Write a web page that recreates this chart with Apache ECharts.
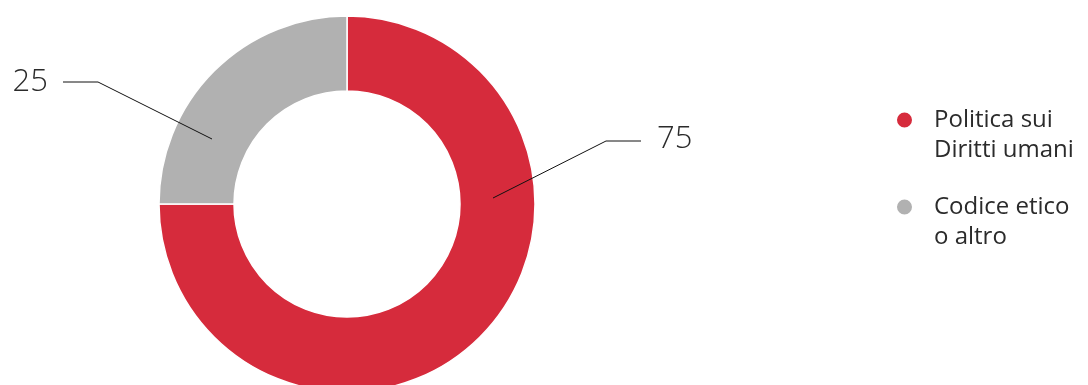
<!DOCTYPE html>
<html>
<head>
<meta charset="utf-8">
<script src="https://cdn.jsdelivr.net/npm/echarts@6/dist/echarts.min.js"></script>
<style>
  html, body { margin: 0; padding: 0; background: #ffffff; }
  #chart { width: 1088px; height: 385px; }
</style>
</head>
<body>
<div id="chart"></div>
<script>
// Categories and values of the donut
const categories = ['Politica sui\nDiritti umani', 'Codice etico\no altro'];
const values = [75, 25];
const colors = ['#D62B3C', '#B1B1B1'];

// Label placement (pixel positions of value text and its leader line)
const labelPlacement = [
  { x: 657, y: 139, align: 'left', line: [[493, 198], [606, 141], [641, 141]] },
  { x: 48, y: 82, align: 'right', line: [[212, 139], [98, 82], [63, 82]] }
];

const FONT = '"Open Sans", "DejaVu Sans", sans-serif';
const center = [347, 204];
const radius = [113, 188];
const pieData = categories.map((name, i) => ({ name: name, value: values[i] }));

const chart = echarts.init(document.getElementById('chart'), null, { renderer: 'canvas' });

chart.setOption({
  animation: false,
  backgroundColor: '#ffffff',
  color: colors,
  textStyle: { fontFamily: FONT },
  legend: {
    orient: 'vertical',
    left: 895,
    top: 75,
    padding: 0,
    icon: 'circle',
    itemWidth: 17,
    itemHeight: 17,
    itemGap: -3,
    selectedMode: false,
    // a blank leading line keeps the marker level with the first text line
    formatter: function (name) { return ' \n' + name; },
    textStyle: {
      fontFamily: FONT,
      fontSize: 24,
      lineHeight: 30,
      color: '#2b2b2b',
      padding: [0, 0, 0, 16]
    },
    data: categories
  },
  series: [
    {
      // coloured ring
      type: 'pie',
      z: 2,
      center: center,
      radius: radius,
      startAngle: 90,
      clockwise: true,
      silent: true,
      itemStyle: { borderColor: '#ffffff', borderWidth: 1.5 },
      label: { show: false },
      labelLine: { show: false },
      data: pieData
    },
    {
      // value labels and leader lines, drawn above the ring
      type: 'pie',
      z: 5,
      center: center,
      radius: radius,
      startAngle: 90,
      clockwise: true,
      silent: true,
      legendHoverLink: false,
      itemStyle: { color: 'rgba(0,0,0,0)' },
      label: {
        show: true,
        formatter: '{c}',
        fontFamily: FONT,
        fontSize: 31,
        fontWeight: 300,
        color: '#2b2b2b'
      },
      labelLine: {
        show: true,
        length: 20,
        length2: 30,
        lineStyle: { color: '#111111', width: 1 }
      },
      labelLayout: function (params) {
        const p = labelPlacement[params.dataIndex];
        return {
          x: p.x,
          y: p.y,
          align: p.align,
          verticalAlign: 'middle',
          labelLinePoints: p.line
        };
      },
      data: pieData
    }
  ]
});
</script>
</body>
</html>
